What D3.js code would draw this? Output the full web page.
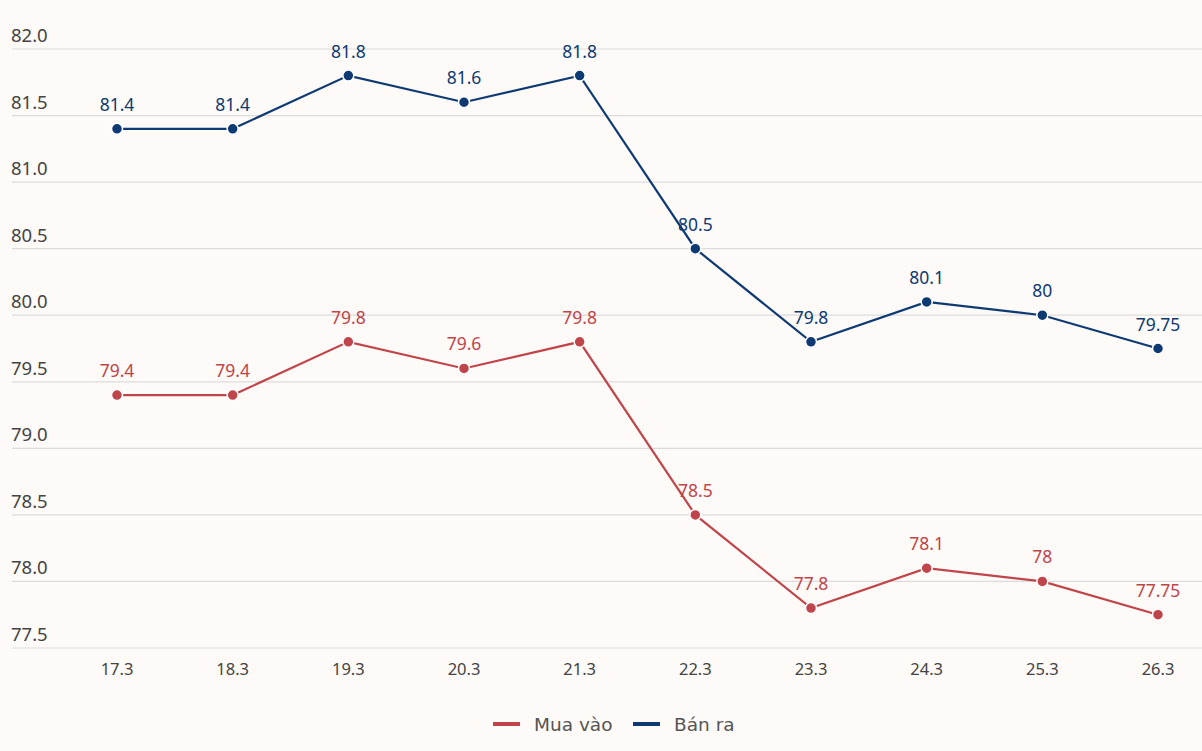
<!DOCTYPE html>
<html><head><meta charset="utf-8">
<script src="https://cdn.jsdelivr.net/npm/d3@7/dist/d3.min.js"></script>
<style>
html,body{margin:0;padding:0;background:#fdfaf7;}
svg{display:block;font-family:"Noto Sans","Open Sans",sans-serif;}
</style></head><body>
<svg id="c" width="1202" height="751"></svg>
<script>
const categories = ["17.3","18.3","19.3","20.3","21.3","22.3","23.3","24.3","25.3","26.3"];
const buyValues = [79.4,79.4,79.8,79.6,79.8,78.5,77.8,78.1,78,77.75];
const sellValues = [81.4,81.4,81.8,81.6,81.8,80.5,79.8,80.1,80,79.75];
const yTicks = [77.5,78.0,78.5,79.0,79.5,80.0,80.5,81.0,81.5,82.0];
const seriesNames = ["Mua vào","Bán ra"];
const colors = ["#c0454a","#0e3a74"];

const svg = d3.select("#c");
svg.append("rect").attr("width",1202).attr("height",751).attr("fill","#fdfaf7");
const x = d3.scalePoint().domain(categories).range([117,1158]);
const y = d3.scaleLinear().domain([77.5,82]).range([648,49]);

const grid = svg.append("g");
yTicks.forEach(t=>{
  grid.append("line").attr("x1",12).attr("x2",1202).attr("y1",y(t)).attr("y2",y(t))
    .attr("stroke","#dcdcdc").attr("stroke-width",1.2);
  grid.append("text").attr("x",11).attr("y",y(t)-7).text(t.toFixed(1))
    .attr("fill","#444").attr("font-size",18.5);
});
categories.forEach(c=>{
  svg.append("text").attr("x",x(c)).attr("y",675).attr("text-anchor","middle")
    .text(c).attr("fill","#444").attr("font-size",16.5);
});

const line = d3.line().x((d,i)=>x(categories[i])).y(d=>y(d));
[buyValues,sellValues].forEach((vals,si)=>{
  const g = svg.append("g");
  g.append("path").datum(vals).attr("d",line).attr("fill","none")
    .attr("stroke",colors[si]).attr("stroke-width",2.2);
  g.selectAll("circle").data(vals).join("circle")
    .attr("cx",(d,i)=>x(categories[i])).attr("cy",d=>y(d)).attr("r",5.5)
    .attr("fill",colors[si]).attr("stroke","#fff").attr("stroke-width",1.5);
  g.selectAll("text").data(vals).join("text")
    .attr("x",(d,i)=>x(categories[i])).attr("y",d=>y(d)-18)
    .attr("text-anchor","middle").attr("fill",colors[si]).attr("font-size",17.5)
    .text(d=>String(d));
});

const leg = svg.append("g").attr("font-family","'DejaVu Sans', sans-serif");
const legX = [493,633];
seriesNames.forEach((n,i)=>{
  leg.append("line").attr("x1",legX[i]).attr("x2",legX[i]+27).attr("y1",724).attr("y2",724)
    .attr("stroke",colors[i]).attr("stroke-width",4);
  leg.append("text").attr("x",legX[i]+41).attr("y",731).text(n)
    .attr("fill","#555").attr("font-size",18.5);
});
</script>
</body></html>
